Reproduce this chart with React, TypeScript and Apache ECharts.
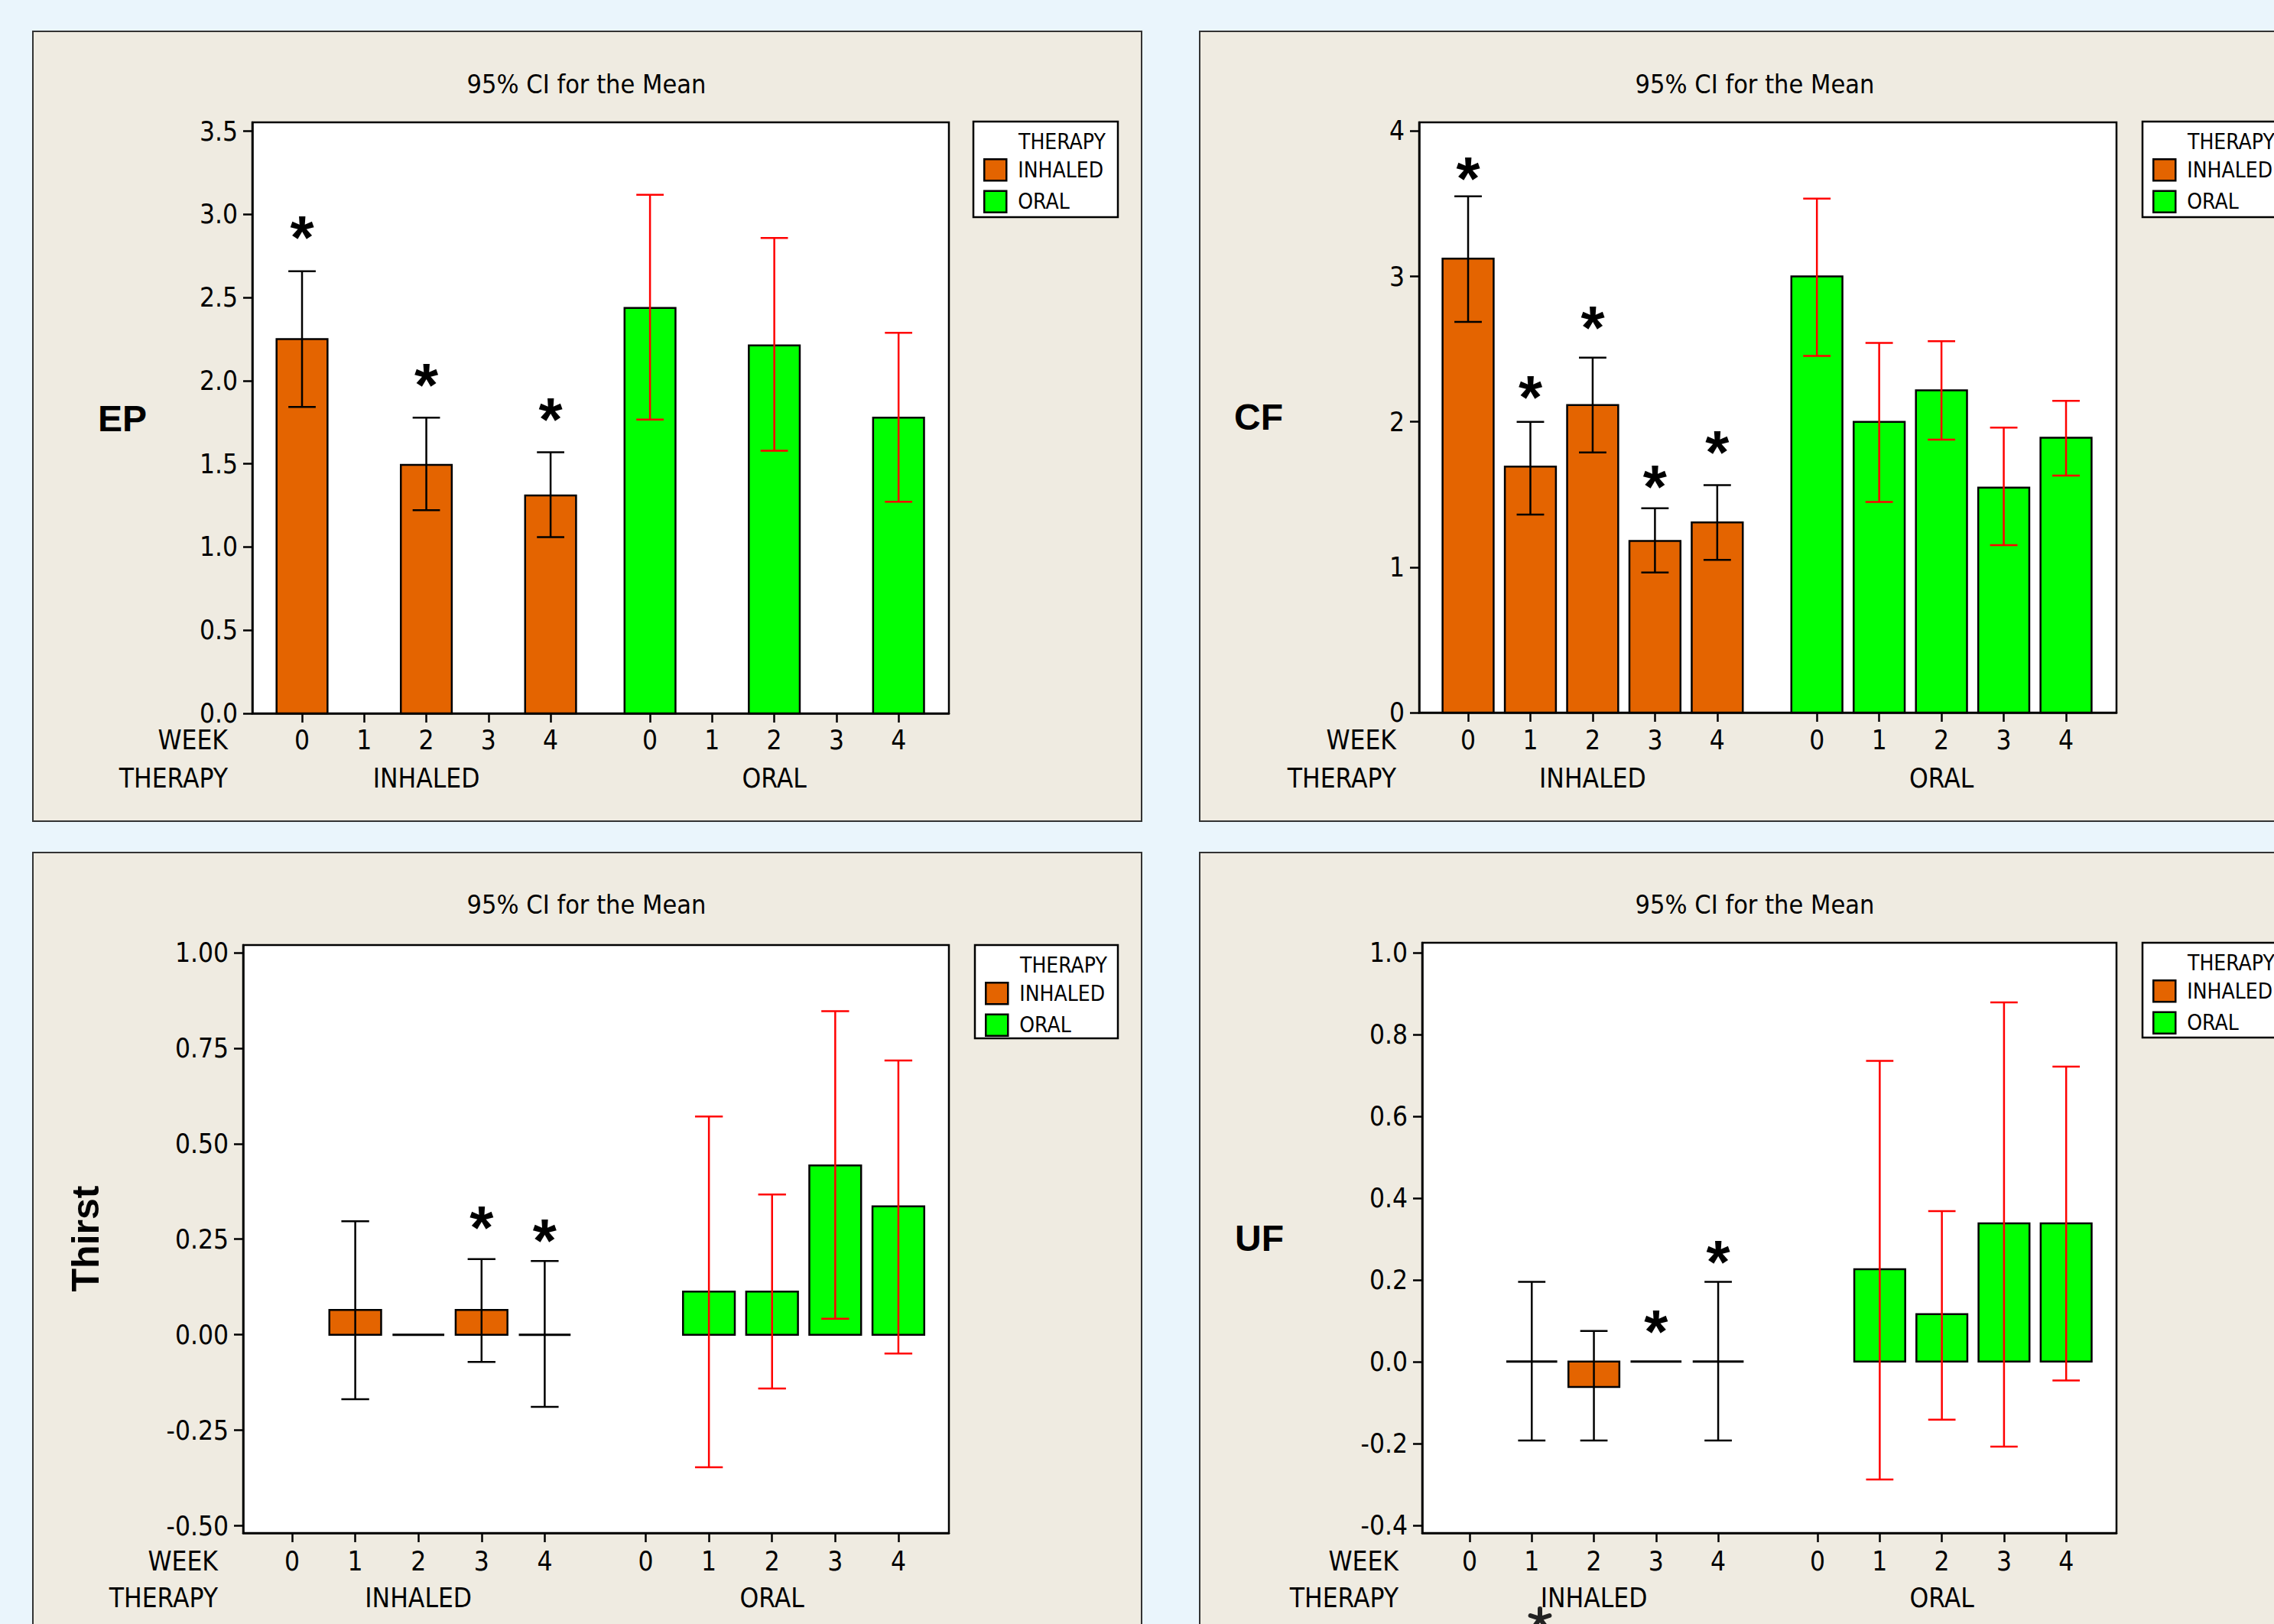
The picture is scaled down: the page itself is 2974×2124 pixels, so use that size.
import React, { useEffect, useRef } from "react";
import * as echarts from "echarts";

const WIDTH = 2974;
const HEIGHT = 2124;

// ---------------- data ----------------
const THERAPY_LABELS = ["INHALED", "ORAL"];
const WEEK_LABELS = [0, 1, 2, 3, 4];
const ORAL_OFFSET = 5.6; // x position offset of the ORAL group on the week axis

// EP
const epInhaledMean = [2.25, null, 1.494, null, 1.31];
const epInhaledLow = [1.842, null, 1.222, null, 1.06];
const epInhaledHigh = [2.658, null, 1.778, null, 1.57];
const epOralMean = [2.437, null, 2.212, null, 1.778];
const epOralLow = [1.766, null, 1.579, null, 1.272];
const epOralHigh = [3.117, null, 2.858, null, 2.288];
const epStar = [2.92, null, 2.035, null, 1.826];
const epTicks = [0, 0.5, 1, 1.5, 2, 2.5, 3, 3.5];

// CF
const cfInhaledMean = [3.123, 1.692, 2.116, 1.181, 1.308];
const cfInhaledLow = [2.688, 1.362, 1.79, 0.964, 1.051];
const cfInhaledHigh = [3.551, 2.0, 2.442, 1.406, 1.565];
const cfOralMean = [3.0, 2.0, 2.217, 1.547, 1.891];
const cfOralLow = [2.453, 1.449, 1.877, 1.152, 1.63];
const cfOralHigh = [3.536, 2.543, 2.554, 1.96, 2.145];
const cfStar = [3.743, 2.239, 2.717, 1.623, 1.859];
const cfTicks = [0, 1, 2, 3, 4];

// Thirst
const thInhaledMean = [null, 0.065, 0, 0.065, 0];
const thInhaledLow = [null, -0.169, null, -0.071, -0.189];
const thInhaledHigh = [null, 0.297, null, 0.198, 0.193];
const thOralMean = [null, 0.113, 0.113, 0.443, 0.336];
const thOralLow = [null, -0.347, -0.141, 0.042, -0.049];
const thOralHigh = [null, 0.571, 0.367, 0.847, 0.718];
const thStar = [null, null, null, 0.306, 0.273];
const thTicks = [-0.5, -0.25, 0, 0.25, 0.5, 0.75, 1.0];

// UF
const ufInhaledMean = [null, 0, -0.062, 0, 0];
const ufInhaledLow = [null, -0.193, -0.193, null, -0.193];
const ufInhaledHigh = [null, 0.195, 0.075, null, 0.195];
const ufOralMean = [null, 0.226, 0.116, 0.338, 0.338];
const ufOralLow = [null, -0.288, -0.142, -0.208, -0.046];
const ufOralHigh = [null, 0.735, 0.368, 0.878, 0.721];
const ufStar = [null, null, null, 0.097, 0.267];
const ufTicks = [-0.4, -0.2, 0, 0.2, 0.4, 0.6, 0.8, 1.0];

const PANELS = [
  { name: "EP", inh: [epInhaledMean, epInhaledLow, epInhaledHigh], oral: [epOralMean, epOralLow, epOralHigh], star: epStar, ticks: epTicks, decimals: 1, yMin: 0, yMax: 3.553 },
  { name: "CF", inh: [cfInhaledMean, cfInhaledLow, cfInhaledHigh], oral: [cfOralMean, cfOralLow, cfOralHigh], star: cfStar, ticks: cfTicks, decimals: 0, yMin: 0, yMax: 4.06 },
  { name: "Thirst", inh: [thInhaledMean, thInhaledLow, thInhaledHigh], oral: [thOralMean, thOralLow, thOralHigh], star: thStar, ticks: thTicks, decimals: 2, yMin: -0.519, yMax: 1.02 },
  { name: "UF", inh: [ufInhaledMean, ufInhaledLow, ufInhaledHigh], oral: [ufOralMean, ufOralLow, ufOralHigh], star: ufStar, ticks: ufTicks, decimals: 1, yMin: -0.419, yMax: 1.024 },
];

// ---------------- layout & style ----------------
const LAYOUT = [
  { panel: [43, 41, 1450, 1033], grid: { left: 330, top: 160, width: 911, height: 773 }, xMin: -0.8, xMax: 10.41, title: [767, 110], yName: [160, 547], rot: false, rowRight: 298, weekY: 968, therapyY: 1018, legendBox: [1273, 159, 189, 125], legendItems: [1286, 207] },
  { panel: [1569, 41, 1500, 1033], grid: { left: 1856, top: 160, width: 912, height: 772 }, xMin: -0.786, xMax: 10.41, title: [2295, 110], yName: [1646, 545], rot: false, rowRight: 1826, weekY: 968, therapyY: 1018, legendBox: [2802, 159, 300, 125], legendItems: [2815, 207] },
  { panel: [43, 1115, 1450, 1100], grid: { left: 318, top: 1236, width: 923, height: 769 }, xMin: -0.775, xMax: 10.4, title: [767, 1183], yName: [112, 1620], rot: true, rowRight: 285, weekY: 2042, therapyY: 2090, legendBox: [1275, 1236, 187, 122], legendItems: [1288, 1284] },
  { panel: [1569, 1115, 1500, 1100], grid: { left: 1860, top: 1233, width: 908, height: 772 }, xMin: -0.763, xMax: 10.41, title: [2295, 1183], yName: [1647, 1619], rot: false, rowRight: 1829, weekY: 2042, therapyY: 2090, legendBox: [2802, 1233, 300, 124], legendItems: [2815, 1281] },
];

const PAGE_BG = "#EAF5FC";
const PANEL_BG = "#EFEBE1";
const ORANGE = "#E46400";
const GREEN = "#00FF00";
const RED = "#FF0000";
const FONT = "'Liberation Sans Narrow', 'Arial Narrow', 'DejaVu Sans Condensed', 'Liberation Sans', sans-serif";
const BOLD_FONT = "'Liberation Sans', Arial, sans-serif";
const FS = 35;
const TITLE_FS = 34;
const LEGEND_FS = 28;
const BAR_WIDTH = 0.82; // in week units
const CAP_WIDTH = 0.44;
const STAR_SIZE = 80;
const STAR_SHIFT = 0.16;

const xPos = (g: number, w: number) => w + g * ORAL_OFFSET;

function barRender(fill: string) {
  return (_p: any, api: any) => {
    const x = api.value(0);
    const v = api.value(1);
    const base = api.coord([x, 0]);
    const top = api.coord([x, v]);
    const w = api.size([BAR_WIDTH, 0])[0];
    if (v === 0) {
      return { type: "line", shape: { x1: base[0] - w / 2, y1: base[1], x2: base[0] + w / 2, y2: base[1] }, style: { stroke: "#000", lineWidth: 3 } };
    }
    return {
      type: "rect",
      shape: { x: base[0] - w / 2, y: Math.min(base[1], top[1]), width: w, height: Math.abs(base[1] - top[1]) },
      style: { fill, stroke: "#000", lineWidth: 2.5 },
    };
  };
}

function errRender(color: string) {
  return (_p: any, api: any) => {
    const x = api.value(0);
    const lo = api.coord([x, api.value(1)]);
    const hi = api.coord([x, api.value(2)]);
    const h = api.size([CAP_WIDTH, 0])[0] / 2;
    const st = { stroke: color, lineWidth: 2.5 };
    return {
      type: "group",
      children: [
        { type: "line", shape: { x1: hi[0], y1: hi[1], x2: lo[0], y2: lo[1] }, style: st },
        { type: "line", shape: { x1: hi[0] - h, y1: hi[1], x2: hi[0] + h, y2: hi[1] }, style: st },
        { type: "line", shape: { x1: lo[0] - h, y1: lo[1], x2: lo[0] + h, y2: lo[1] }, style: st },
      ],
    };
  };
}

function starRender(_p: any, api: any) {
  const p = api.coord([api.value(0), api.value(1)]);
  return {
    type: "text",
    x: p[0],
    y: p[1] + STAR_SIZE * STAR_SHIFT,
    style: {
      text: "*",
      fill: "#000",
      fontSize: STAR_SIZE,
      fontWeight: "bold",
      fontFamily: BOLD_FONT,
      align: "center",
      verticalAlign: "middle",
      textAlign: "center",
      textVerticalAlign: "middle",
    },
  };
}

function text(x: number, y: number, t: string, opts: any = {}) {
  return {
    type: "text",
    x,
    y,
    z: 50,
    rotation: opts.rotation || 0,
    style: {
      text: t,
      fill: "#000",
      fontSize: opts.fontSize || FS,
      fontFamily: opts.fontFamily || FONT,
      fontWeight: opts.fontWeight || "normal",
      align: opts.align || "center",
      verticalAlign: "middle",
      textAlign: opts.align || "center",
      textVerticalAlign: "middle",
    },
  };
}

// a five-armed asterisk symbol drawn from line segments
function asteriskSymbol(cx: number, cy: number, r: number, color: string) {
  const children: any[] = [];
  for (let k = 0; k < 5; k++) {
    const a = -Math.PI / 2 + (k * 2 * Math.PI) / 5;
    children.push({
      type: "line",
      shape: { x1: cx, y1: cy, x2: cx + r * Math.cos(a), y2: cy + r * Math.sin(a) },
      style: { stroke: color, lineWidth: 6, lineCap: "round" },
    });
  }
  return { type: "group", z: 50, children };
}

function buildOption() {
  const grid: any[] = [];
  const xAxis: any[] = [];
  const yAxis: any[] = [];
  const series: any[] = [];
  const legend: any[] = [];
  const graphic: any[] = [];

  const weekValues: number[] = [];
  THERAPY_LABELS.forEach((_t, g) => WEEK_LABELS.forEach((w) => weekValues.push(xPos(g, w))));
  const therapyValues = THERAPY_LABELS.map((_t, g) => xPos(g, 2));

  PANELS.forEach((pd, i) => {
    const L = LAYOUT[i];
    const gridBottom = L.grid.top + L.grid.height;
    grid.push({ ...L.grid, show: true, backgroundColor: "#fff", borderColor: "#000", borderWidth: 2.5, containLabel: false });

    xAxis.push({
      gridIndex: i,
      type: "value",
      position: "bottom",
      min: L.xMin,
      max: L.xMax,
      axisLine: { show: true, onZero: false, lineStyle: { color: "#000", width: 2.5 } },
      axisTick: { show: true, length: 12, lineStyle: { color: "#000", width: 2.5 }, customValues: weekValues },
      axisLabel: {
        customValues: weekValues,
        formatter: (v: number) => String(Math.round(v >= ORAL_OFFSET - 0.5 ? v - ORAL_OFFSET : v)),
        margin: L.weekY - gridBottom - FS / 2,
        fontSize: FS,
        lineHeight: FS,
        fontFamily: FONT,
        color: "#000",
      },
      splitLine: { show: false },
    });
    xAxis.push({
      gridIndex: i,
      type: "value",
      position: "bottom",
      min: L.xMin,
      max: L.xMax,
      axisLine: { show: false, onZero: false },
      axisTick: { show: false },
      axisLabel: {
        customValues: therapyValues,
        formatter: (v: number) => THERAPY_LABELS[v > ORAL_OFFSET / 2 + 2 ? 1 : 0],
        margin: L.therapyY - gridBottom - FS / 2,
        fontSize: FS,
        lineHeight: FS,
        fontFamily: FONT,
        color: "#000",
      },
      splitLine: { show: false },
    });
    yAxis.push({
      gridIndex: i,
      type: "value",
      min: pd.yMin,
      max: pd.yMax,
      axisLine: { show: true, onZero: false, lineStyle: { color: "#000", width: 2.5 } },
      axisTick: { show: true, length: 12, lineStyle: { color: "#000", width: 2.5 }, customValues: pd.ticks },
      axisLabel: {
        customValues: pd.ticks,
        formatter: (v: number) => v.toFixed(pd.decimals),
        margin: 19,
        fontSize: FS,
        fontFamily: FONT,
        color: "#000",
      },
      splitLine: { show: false },
    });

    const groups = [pd.inh, pd.oral];
    groups.forEach((grp, g) => {
      const [mean, low, high] = grp;
      const barData: number[][] = [];
      const errData: number[][] = [];
      WEEK_LABELS.forEach((w, k) => {
        if (mean[k] !== null) barData.push([xPos(g, w), mean[k] as number]);
        if (low[k] !== null && high[k] !== null) errData.push([xPos(g, w), low[k] as number, high[k] as number]);
      });
      series.push({
        type: "custom",
        name: THERAPY_LABELS[g],
        xAxisIndex: 2 * i,
        yAxisIndex: i,
        silent: true,
        itemStyle: { color: g === 0 ? ORANGE : GREEN, borderColor: "#000", borderWidth: 2.5 },
        renderItem: barRender(g === 0 ? ORANGE : GREEN),
        data: barData,
        z: 2,
      });
      series.push({
        type: "custom",
        name: THERAPY_LABELS[g] + " CI",
        xAxisIndex: 2 * i,
        yAxisIndex: i,
        silent: true,
        encode: { x: 0, y: [1, 2] },
        renderItem: errRender(g === 0 ? "#000" : RED),
        data: errData,
        z: 3,
      });
    });
    const starData: number[][] = [];
    WEEK_LABELS.forEach((w, k) => {
      if (pd.star[k] !== null) starData.push([xPos(0, w), pd.star[k] as number]);
    });
    series.push({
      type: "custom",
      name: "significant",
      xAxisIndex: 2 * i,
      yAxisIndex: i,
      silent: true,
      renderItem: starRender,
      data: starData,
      z: 4,
    });

    legend.push({
      left: L.legendItems[0],
      top: L.legendItems[1],
      orient: "vertical",
      data: THERAPY_LABELS,
      icon: "rect",
      itemWidth: 29,
      itemHeight: 28,
      itemGap: 11,
      padding: 0,
      selectedMode: false,
      itemStyle: { borderColor: "#000", borderWidth: 2.5 },
      textStyle: { fontSize: LEGEND_FS, fontFamily: FONT, color: "#000", padding: [0, 0, 0, 10] },
      z: 20,
    });

    // panel background & frame
    const [px, py, pw, ph] = L.panel;
    graphic.push({ type: "rect", z: -10, shape: { x: px, y: py, width: pw, height: ph }, style: { fill: PANEL_BG, stroke: "#333", lineWidth: 2 } });
    const [bx, by, bw, bh] = L.legendBox;
    graphic.push({ type: "rect", z: 10, shape: { x: bx, y: by, width: bw, height: bh }, style: { fill: "#fff", stroke: "#000", lineWidth: 2.5 } });
    graphic.push(text(bx + 59, by + 26, "THERAPY", { fontSize: LEGEND_FS, align: "left" }));
    graphic.push(text(L.title[0], L.title[1], "95% CI for the Mean", { fontSize: TITLE_FS }));
    graphic.push(text(L.rowRight, L.weekY, "WEEK", { align: "right" }));
    graphic.push(text(L.rowRight, L.therapyY, "THERAPY", { align: "right" }));
    graphic.push(
      text(L.yName[0], L.yName[1], pd.name, {
        fontSize: L.rot ? 50 : 48,
        fontWeight: "bold",
        fontFamily: BOLD_FONT,
        rotation: L.rot ? Math.PI / 2 : 0,
      })
    );
  });

  // stray asterisk printed under the UF panel's week axis (cut by the picture's edge)
  graphic.push(asteriskSymbol(2014, 2117, 13, "#222"));

  return {
    animation: false,
    backgroundColor: PAGE_BG,
    grid,
    xAxis,
    yAxis,
    legend,
    graphic: { elements: graphic },
    series,
  };
}

export default function App() {
  const ref = useRef<HTMLDivElement>(null);
  useEffect(() => {
    const chart = echarts.init(ref.current as HTMLDivElement, null, { renderer: "svg", width: WIDTH, height: HEIGHT });
    chart.setOption(buildOption() as any);
    return () => chart.dispose();
  }, []);
  return (
    <div
      ref={ref}
      style={{ position: "absolute", left: 0, top: 0, width: WIDTH, height: HEIGHT, background: PAGE_BG }}
    />
  );
}
